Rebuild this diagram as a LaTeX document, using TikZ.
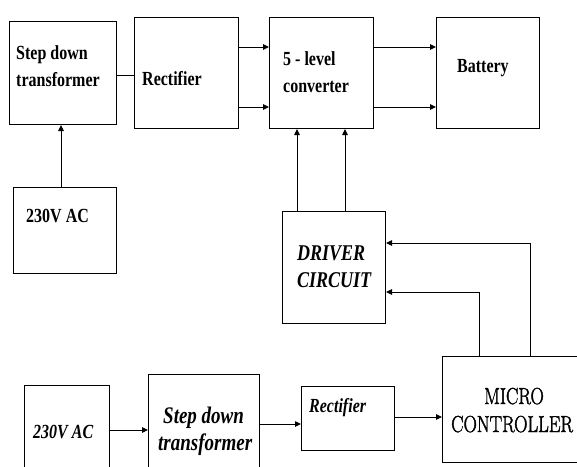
\documentclass[tikz,border=0pt]{standalone}
\usepackage{fontspec}
\usepackage{graphicx}
\usetikzlibrary{arrows.meta}
\newfontfamily\tms{Liberation Serif}
\newfontfamily\mcfont[FakeBold=2]{Latin Modern Roman}
\newcommand\tallt[1]{\scalebox{1}[1.25]{#1}}
\tikzset{
  box/.style={draw, line width=1pt, anchor=north west, inner sep=0pt},
  lb/.style={inner sep=0pt, anchor=base west},
  conn/.style={line width=0.9pt},
  arr/.style={line width=0.9pt, -{Triangle[length=6pt,width=5.5pt]}},
  tb/.style={font=\tms\bfseries\fontsize{16}{19}\selectfont},
  tbi/.style={font=\tms\bfseries\itshape\fontsize{16}{19}\selectfont},
  tbib/.style={font=\tms\bfseries\itshape\fontsize{19}{22}\selectfont},
  drvf/.style={font=\tms\bfseries\itshape\fontsize{18}{22}\selectfont},
  mcf/.style={font=\mcfont\fontsize{18.5}{22}\selectfont},
}
\begin{document}
\begin{tikzpicture}[x=1pt,y=-1pt]
\useasboundingbox (0,0) rectangle (577,466);
\clip (0,0) rectangle (577,466);
% boxes
\node[box, minimum width=107, minimum height=103] (sdt) at (9,21) {};
\node[box, minimum width=104, minimum height=111] (rect) at (134,17) {};
\node[box, minimum width=104, minimum height=111] (conv) at (269,17) {};
\node[box, minimum width=103, minimum height=111] (bat) at (436,17) {};
\node[box, minimum width=103, minimum height=86] (ac) at (13,187) {};
\node[box, minimum width=103, minimum height=112] (drv) at (282,211) {};
\node[box, minimum width=150, minimum height=106] (mc) at (442,356) {};
\node[box, minimum width=85, minimum height=100] (ac2) at (24,385) {};
\node[box, minimum width=111, minimum height=110] (sdt2) at (148,374) {};
\node[box, minimum width=93, minimum height=64] (rect2) at (301,386) {};
% labels
\node[lb, tb] (t1) at (16,59) {\tallt{Step down}};
\node[lb, tb] (t2) at (16,86) {\tallt{transformer}};
\node[lb, tb] (t3) at (142,85) {\tallt{Rectifier}};
\node[lb, tb] (t4) at (283,65) {\tallt{5 - level}};
\node[lb, tb] (t5) at (283,92) {\tallt{converter}};
\node[lb, tb] (t6) at (457,72) {\tallt{Battery}};
\node[lb, tb] (t7) at (26,222) {\tallt{230V AC}};
\node[lb, drvf] (t8) at (297,260) {\tallt{DRIVER}};
\node[lb, drvf] (t9) at (297,287) {\tallt{CIRCUIT}};
\node[inner sep=0pt, anchor=base, mcf] (t10) at (514,404) {\tallt{MICRO}};
\node[lb, mcf] (t11) at (451,432) {\tallt{CONTROLLER}};
\node[lb, tbi] (t12) at (33,438) {\tallt{230V AC}};
\node[lb, tbib] (t13) at (163,423) {\tallt{Step down}};
\node[lb, tbib] (t14) at (158,450) {\tallt{transformer}};
\node[lb, tbi] (t15) at (309,412) {\tallt{Rectifier}};
% connectors
\draw[conn] (sdt.east |- 0,75) -- (rect.west |- 0,75);
\draw[arr] (ac.north -| 61,0) -- (sdt.south -| 61,0);
\draw[arr] (rect.east |- 0,47) -- (conv.west |- 0,47);
\draw[arr] (rect.east |- 0,107) -- (conv.west |- 0,107);
\draw[arr] (conv.east |- 0,47) -- (bat.west |- 0,47);
\draw[arr] (conv.east |- 0,107) -- (bat.west |- 0,107);
\draw[arr] (drv.north -| 297,0) -- (conv.south -| 297,0);
\draw[arr] (drv.north -| 345,0) -- (conv.south -| 345,0);
\draw[arr] (mc.north -| 479,0) -- (479,292) -- (drv.east |- 0,292);
\draw[arr] (mc.north -| 530,0) -- (530,243) -- (drv.east |- 0,243);
\draw[arr] (ac2.east |- 0,430) -- (sdt2.west |- 0,430);
\draw[arr] (sdt2.east |- 0,424) -- (rect2.west |- 0,424);
\draw[arr] (rect2.east |- 0,417) -- (mc.west |- 0,417);
\end{tikzpicture}
\end{document}
